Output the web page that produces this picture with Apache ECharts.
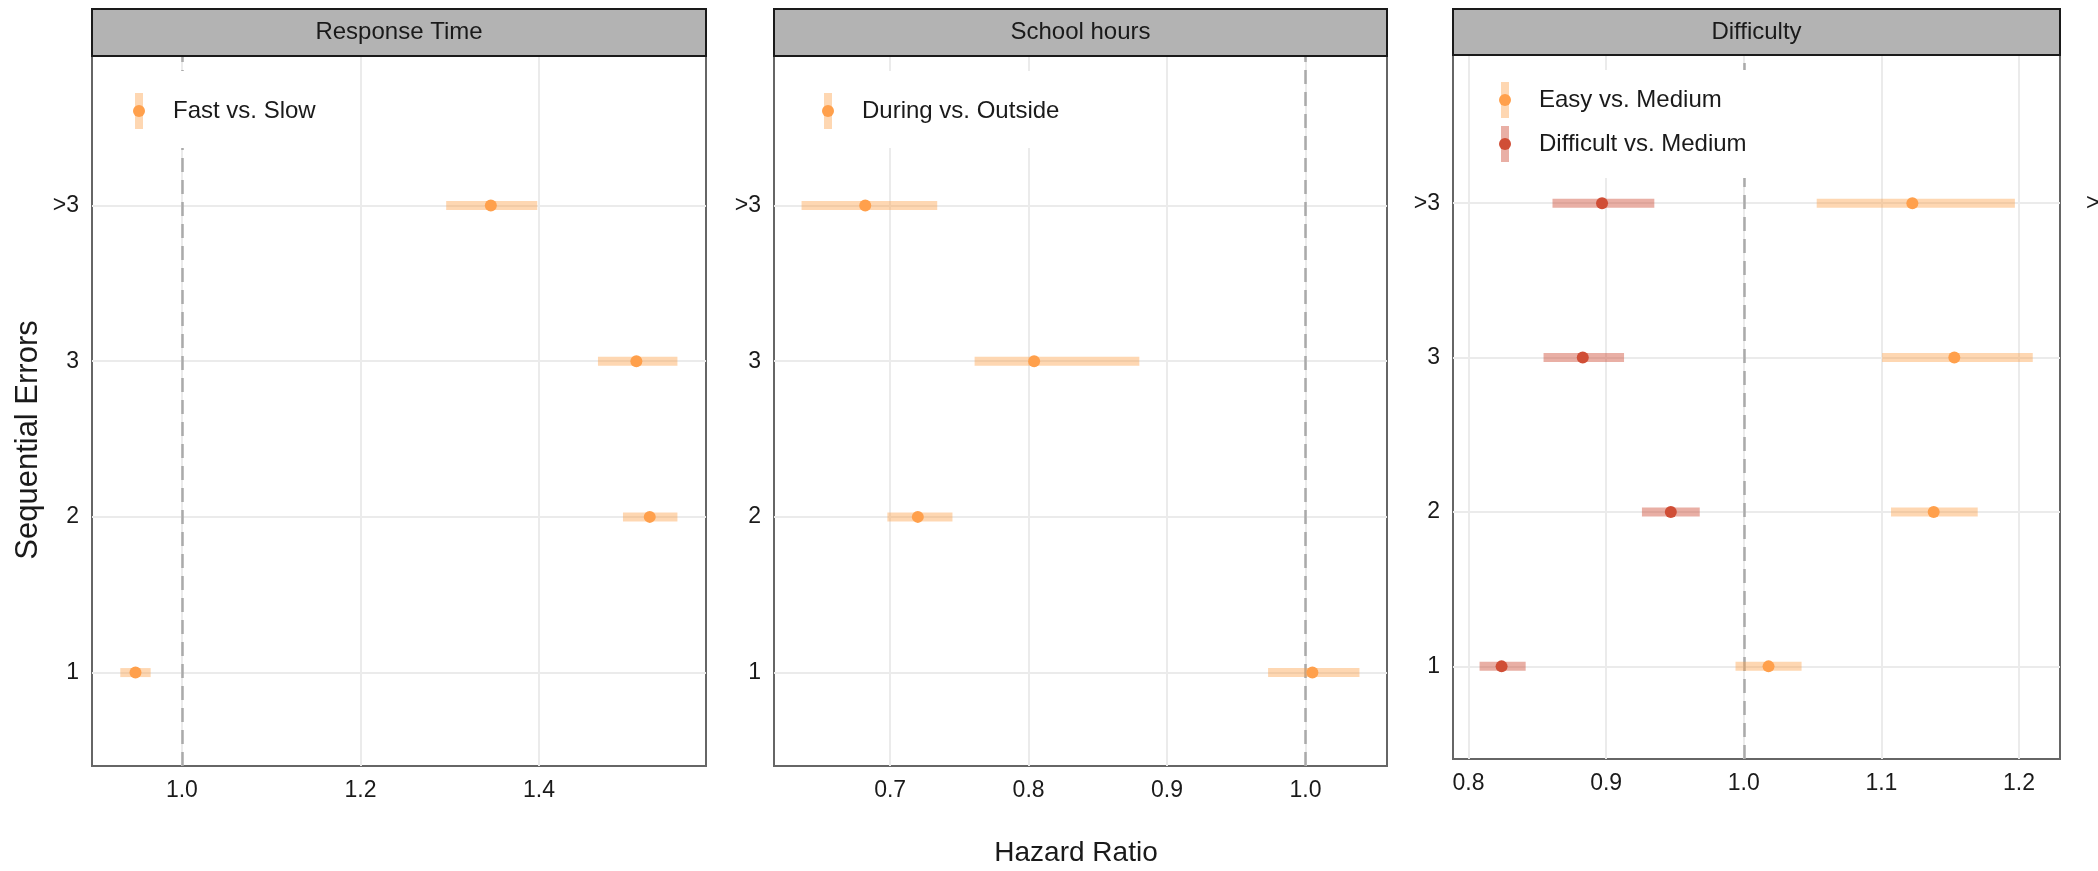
<!DOCTYPE html>
<html>
<head>
<meta charset="utf-8">
<script src="https://cdn.jsdelivr.net/npm/echarts@6/dist/echarts.min.js"></script>
<style>
  html, body { margin: 0; padding: 0; background: #fff; }
  #chart { width: 2098px; height: 871px; }
</style>
</head>
<body>
<div id="chart"></div>
<script>
// Sequential error levels (bottom to top)
const categories = ['1', '2', '3', '>3'];

// Response Time: Fast vs. Slow
const fastEst = [0.948, 1.524, 1.509, 1.346];
const fastLo  = [0.931, 1.494, 1.466, 1.296];
const fastHi  = [0.965, 1.555, 1.555, 1.398];

// School hours: During vs. Outside
const duringEst = [1.005, 0.720, 0.804, 0.682];
const duringLo  = [0.973, 0.698, 0.761, 0.636];
const duringHi  = [1.039, 0.745, 0.880, 0.734];

// Difficulty: Easy vs. Medium, Difficult vs. Medium
const easyEst = [1.018, 1.138, 1.153, 1.1225];
const easyLo  = [0.994, 1.107, 1.1005, 1.053];
const easyHi  = [1.042, 1.170, 1.210, 1.197];
const diffEst = [0.824, 0.947, 0.883, 0.897];
const diffLo  = [0.808, 0.926, 0.8545, 0.861];
const diffHi  = [0.8415, 0.968, 0.913, 0.935];

// Tick labels of each panel
const ticksResponse = [1.0, 1.2, 1.4];
const ticksSchool = [0.7, 0.8, 0.9, 1.0];
const ticksDifficulty = [0.8, 0.9, 1.0, 1.1, 1.2];
const yTicks = [1, 2, 3, 4];

const FONT = '"Liberation Sans", Arial, Helvetica, sans-serif';
const TEXT = '#1a1a1a';
const ORANGE = '#ffa04c';
const ORANGE_BAR = 'rgba(253,160,72,0.42)';
const RED = '#d04e36';
const RED_BAR = 'rgba(206,78,56,0.45)';

// panel boxes in pixels
const panels = [
  { left: 92,   top: 56, width: 614, height: 710, title: 'Response Time', xmin: 0.8993, xmax: 1.587,  ticks: ticksResponse },
  { left: 774,  top: 56, width: 613, height: 710, title: 'School hours',  xmin: 0.6161, xmax: 1.0589, ticks: ticksSchool },
  { left: 1453, top: 55, width: 607, height: 704, title: 'Difficulty',    xmin: 0.7887, xmax: 1.2298, ticks: ticksDifficulty }
];

function keyIcon(bar, dot) {
  const svg = '<svg xmlns="http://www.w3.org/2000/svg" width="35" height="36" viewBox="0 0 35 36">' +
    '<rect x="2" y="0" width="8" height="36" fill="' + bar + '"/>' +
    '<circle cx="6" cy="18" r="6" fill="' + dot + '"/></svg>';
  return 'image://data:image/svg+xml;charset=utf-8,' + encodeURIComponent(svg);
}

function rows(est, lo, hi) {
  return {
    points: est.map((v, i) => [v, i + 1]),
    ranges: lo.map((v, i) => [v, hi[i], i + 1])
  };
}

function rangeSeries(name, idx, data, color) {
  return {
    name: name,
    type: 'custom',
    xAxisIndex: idx, yAxisIndex: idx,
    data: data,
    encode: { x: [0, 1], y: 2 },
    z: 3,
    silent: true,
    renderItem: function (params, api) {
      const a = api.coord([api.value(0), api.value(2)]);
      const b = api.coord([api.value(1), api.value(2)]);
      return {
        type: 'rect',
        shape: { x: a[0], y: a[1] - 4.5, width: b[0] - a[0], height: 9 },
        style: { fill: color }
      };
    }
  };
}

function pointSeries(name, idx, data, color, withRef) {
  const s = {
    name: name,
    type: 'scatter',
    xAxisIndex: idx, yAxisIndex: idx,
    data: data,
    symbolSize: 12,
    itemStyle: { color: color, opacity: 1 },
    z: 4,
    silent: true
  };
  if (withRef) {
    s.markLine = {
      silent: true,
      symbol: 'none',
      label: { show: false },
      lineStyle: { color: '#aaaaaa', width: 2.5, type: [14, 8] },
      data: [{ xAxis: 1 }],
      z: 2
    };
  }
  return s;
}

const r1 = rows(fastEst, fastLo, fastHi);
const r2 = rows(duringEst, duringLo, duringHi);
const rE = rows(easyEst, easyLo, easyHi);
const rD = rows(diffEst, diffLo, diffHi);

const grids = panels.map(p => ({
  left: p.left, top: p.top, width: p.width, height: p.height,
  show: true, borderColor: '#666666', borderWidth: 2, backgroundColor: 'transparent',
  containLabel: false
}));

const xAxes = panels.map((p, i) => ({
  type: 'value', gridIndex: i, min: p.xmin, max: p.xmax,
  axisLine: { show: false },
  axisTick: { show: false, customValues: p.ticks },
  axisLabel: {
    customValues: p.ticks, margin: 13,
    fontFamily: FONT, fontSize: 23, color: TEXT,
    formatter: v => Number(v).toFixed(1)
  },
  splitLine: { show: true, lineStyle: { color: '#ebebeb', width: 2 } }
}));

const yAxes = panels.map((p, i) => ({
  type: 'value', gridIndex: i, min: 0.4, max: 4.96,
  axisLine: { show: false },
  axisTick: { show: false, customValues: yTicks },
  axisLabel: {
    customValues: yTicks, margin: 13,
    fontFamily: FONT, fontSize: 23, color: TEXT,
    formatter: v => categories[Math.round(v) - 1]
  },
  splitLine: { show: true, lineStyle: { color: '#ebebeb', width: 2 } }
}));

const legendText = { fontFamily: FONT, fontSize: 24, color: TEXT };
const legends = [
  {
    left: 119, top: 71, orient: 'vertical', selectedMode: false,
    backgroundColor: '#ffffff', padding: [22, 14, 19, 14],
    itemWidth: 35, itemHeight: 36, itemGap: 8, textStyle: legendText,
    data: [{ name: 'Fast vs. Slow', icon: keyIcon(ORANGE_BAR, ORANGE) }]
  },
  {
    left: 808, top: 71, orient: 'vertical', selectedMode: false,
    backgroundColor: '#ffffff', padding: [22, 14, 19, 14],
    itemWidth: 35, itemHeight: 36, itemGap: 8, textStyle: legendText,
    data: [{ name: 'During vs. Outside', icon: keyIcon(ORANGE_BAR, ORANGE) }]
  },
  {
    left: 1485, top: 70, orient: 'vertical', selectedMode: false,
    backgroundColor: '#ffffff', padding: [12, 14, 16, 14],
    itemWidth: 35, itemHeight: 36, itemGap: 8, textStyle: legendText,
    data: [
      { name: 'Easy vs. Medium', icon: keyIcon(ORANGE_BAR, ORANGE) },
      { name: 'Difficult vs. Medium', icon: keyIcon(RED_BAR, RED) }
    ]
  }
];

// facet strips, axis titles and the clipped edge label of the next panel
const graphics = [];
panels.forEach(p => {
  graphics.push({
    type: 'rect', silent: true, z: 10,
    shape: { x: p.left, y: 9, width: p.width, height: p.top - 9 },
    style: { fill: '#b3b3b3', stroke: '#1a1a1a', lineWidth: 2 }
  });
  graphics.push({
    type: 'text', silent: true, z: 11,
    x: p.left + p.width / 2, y: 9 + (p.top - 9) / 2,
    style: { text: p.title, fontFamily: FONT, fontSize: 24, fill: TEXT, align: 'center', verticalAlign: 'middle' }
  });
});
graphics.push({
  type: 'text', silent: true,
  x: 1076, y: 853,
  style: { text: 'Hazard Ratio', fontFamily: FONT, fontSize: 28, fill: TEXT, align: 'center', verticalAlign: 'middle' }
});
graphics.push({
  type: 'text', silent: true,
  x: 28, y: 440, rotation: Math.PI / 2,
  style: { text: 'Sequential Errors', fontFamily: FONT, fontSize: 31, fill: TEXT, align: 'center', verticalAlign: 'middle' }
});
graphics.push({
  type: 'text', silent: true,
  x: 2086, y: 204,
  style: { text: categories[3], fontFamily: FONT, fontSize: 23, fill: TEXT, align: 'left', verticalAlign: 'middle' }
});

const option = {
  backgroundColor: '#ffffff',
  animation: false,
  textStyle: { fontFamily: FONT },
  grid: grids,
  xAxis: xAxes,
  yAxis: yAxes,
  legend: legends,
  graphic: graphics,
  series: [
    rangeSeries('Fast vs. Slow', 0, r1.ranges, ORANGE_BAR),
    pointSeries('Fast vs. Slow', 0, r1.points, ORANGE, true),
    rangeSeries('During vs. Outside', 1, r2.ranges, ORANGE_BAR),
    pointSeries('During vs. Outside', 1, r2.points, ORANGE, true),
    rangeSeries('Easy vs. Medium', 2, rE.ranges, ORANGE_BAR),
    pointSeries('Easy vs. Medium', 2, rE.points, ORANGE, true),
    rangeSeries('Difficult vs. Medium', 2, rD.ranges, RED_BAR),
    pointSeries('Difficult vs. Medium', 2, rD.points, RED, false)
  ]
};

const chart = echarts.init(document.getElementById('chart'), null, { renderer: 'canvas', width: 2098, height: 871 });
chart.setOption(option);
</script>
</body>
</html>
